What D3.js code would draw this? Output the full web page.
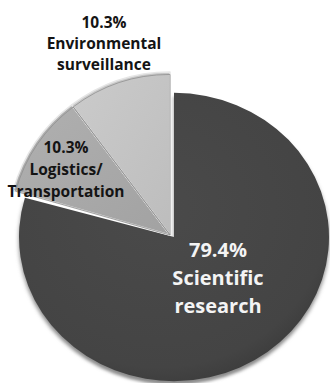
<!DOCTYPE html>
<html>
<head>
<meta charset="utf-8">
<script src="https://cdn.jsdelivr.net/npm/d3@7"></script>
<style>
  html, body { margin: 0; padding: 0; background: #ffffff; }
  svg { display: block; }
</style>
</head>
<body>
<svg id="chart" width="330" height="383"></svg>
<script>
// ---- data ----
const categories = ["Scientific research", "Logistics/ Transportation", "Environmental surveillance"];
const values = [79.4, 10.3, 10.3];
const percentLabels = ["79.4%", "10.3%", "10.3%"];
const nameLines = [["Scientific", "research"], ["Logistics/", "Transportation"], ["Environmental", "surveillance"]];

// ---- layout ----
const svg = d3.select("#chart");
const W = 330, H = 383;
const fills = ["#464646", "#a8a8a8", "#c6c6c6"];
const textColors = ["#f4f4f4", "#141414", "#141414"];

const pie = d3.pie().sort(null).value(d => d);
const arcs = pie(values);

const defs = svg.append("defs");
const gDark = defs.append("radialGradient").attr("id", "gDark")
  .attr("cx", "45%").attr("cy", "40%").attr("r", "65%");
gDark.append("stop").attr("offset", "0%").attr("stop-color", "#4a4a4a");
gDark.append("stop").attr("offset", "85%").attr("stop-color", "#444444");
gDark.append("stop").attr("offset", "100%").attr("stop-color", "#3a3a3a");

const gLog = defs.append("linearGradient").attr("id", "gLog")
  .attr("x1", "0%").attr("y1", "0%").attr("x2", "100%").attr("y2", "100%");
gLog.append("stop").attr("offset", "0%").attr("stop-color", "#b0b0b0");
gLog.append("stop").attr("offset", "100%").attr("stop-color", "#a2a2a2");

const gEnv = defs.append("linearGradient").attr("id", "gEnv")
  .attr("x1", "0%").attr("y1", "0%").attr("x2", "100%").attr("y2", "100%");
gEnv.append("stop").attr("offset", "0%").attr("stop-color", "#cbcbcb");
gEnv.append("stop").attr("offset", "100%").attr("stop-color", "#bdbdbd");

const blur = defs.append("filter").attr("id", "soft").attr("x", "-10%").attr("y", "-10%").attr("width", "120%").attr("height", "120%");
blur.append("feGaussianBlur").attr("stdDeviation", 2);

const gradIds = ["url(#gDark)", "url(#gLog)", "url(#gEnv)"];

// Large slice
const darkR = 155;
const darkArc = d3.arc().innerRadius(0).outerRadius(darkR);
const gBig = svg.append("g").attr("transform", "translate(174,237) scale(1,0.93)");
// lighter rim (3D edge) under the slice
gBig.append("path")
  .attr("d", darkArc(arcs[0]))
  .attr("transform", "translate(0,4)")
  .attr("fill", "#8c8c8c")
  .attr("filter", "url(#soft)");
gBig.append("path")
  .attr("d", darkArc(arcs[0]))
  .attr("fill", gradIds[0]);

// Small slices
const smallR = 163;
const smallArc = d3.arc().innerRadius(0).outerRadius(smallR);
const gSmall = svg.append("g").attr("transform", "translate(170,235)");
gSmall.selectAll("path.small")
  .data(arcs.slice(1))
  .join("path")
  .attr("class", "small")
  .attr("d", smallArc)
  .attr("fill", (d, i) => gradIds[i + 1])
  .attr("stroke", "#e6e6e6")
  .attr("stroke-width", 1.5)
  .attr("stroke-linejoin", "round");
// inner bevel lines
gSmall.selectAll("path.edge")
  .data(arcs.slice(1))
  .join("path")
  .attr("class", "edge")
  .attr("d", smallArc)
  .attr("fill", "none")
  .attr("stroke", "#8f8f8f")
  .attr("stroke-width", 0.8)
  .attr("transform", "scale(0.985)");

// ---- labels ----
const labelPos = [
  { x: 218, y: 257, size: 20, lh: 28 },
  { x: 66, y: 153, size: 15.5, lh: 22 },
  { x: 104, y: 28, size: 15.5, lh: 21 }
];
const labels = svg.append("g").attr("font-family", "'Open Sans', sans-serif").attr("font-weight", "bold");
arcs.forEach((a, i) => {
  const p = labelPos[i];
  const t = labels.append("text")
    .attr("text-anchor", "middle")
    .attr("fill", textColors[i])
    .attr("font-size", p.size);
  [percentLabels[i]].concat(nameLines[i]).forEach((line, j) => {
    t.append("tspan").attr("x", p.x).attr("y", p.y + j * p.lh).text(line);
  });
});
</script>
</body>
</html>
